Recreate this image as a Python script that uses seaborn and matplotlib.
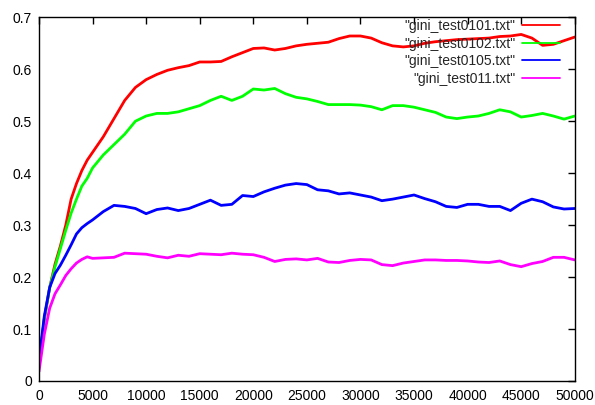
"""Gini coefficient over iterations for four test runs"""
import matplotlib
matplotlib.use("Agg")
import matplotlib.pyplot as plt
from matplotlib.ticker import FuncFormatter, MultipleLocator
import pandas as pd
import seaborn as sns

# Values
steps = [0, 500, 1000, 1500, 2000, 2500, 3000, 3500, 4000, 4500] + list(range(5000, 50001, 1000))

gini_0101 = [0.03, 0.12, 0.18, 0.225, 0.26, 0.30, 0.35, 0.38, 0.405, 0.425,
             0.44, 0.47, 0.505, 0.54, 0.565, 0.58, 0.59, 0.598, 0.603, 0.607,
             0.614, 0.614, 0.615, 0.624, 0.632, 0.640, 0.641, 0.637, 0.640, 0.645,
             0.648, 0.650, 0.652, 0.659, 0.664, 0.664, 0.660, 0.651, 0.645, 0.643,
             0.645, 0.650, 0.653, 0.655, 0.657, 0.658, 0.659, 0.660, 0.663, 0.664,
             0.667, 0.660, 0.646, 0.648, 0.655, 0.662]
gini_0102 = [0.03, 0.12, 0.18, 0.22, 0.255, 0.29, 0.323, 0.35, 0.375, 0.39,
             0.41, 0.435, 0.455, 0.475, 0.50, 0.51, 0.515, 0.515, 0.518, 0.524,
             0.530, 0.540, 0.548, 0.540, 0.548, 0.562, 0.560, 0.563, 0.553, 0.546,
             0.543, 0.538, 0.532, 0.532, 0.532, 0.531, 0.528, 0.522, 0.530, 0.530,
             0.527, 0.522, 0.517, 0.508, 0.505, 0.508, 0.510, 0.515, 0.522, 0.518,
             0.508, 0.511, 0.515, 0.510, 0.504, 0.510]
gini_0105 = [0.04, 0.125, 0.18, 0.207, 0.223, 0.242, 0.262, 0.283, 0.295, 0.303,
             0.310, 0.326, 0.338, 0.336, 0.332, 0.322, 0.330, 0.333, 0.328, 0.332,
             0.340, 0.348, 0.338, 0.340, 0.357, 0.355, 0.364, 0.371, 0.377, 0.380,
             0.378, 0.368, 0.366, 0.360, 0.362, 0.358, 0.354, 0.347, 0.350, 0.354,
             0.358, 0.351, 0.345, 0.336, 0.334, 0.340, 0.340, 0.336, 0.336, 0.328,
             0.342, 0.350, 0.345, 0.335, 0.331, 0.332]
gini_011 = [0.018, 0.09, 0.14, 0.168, 0.185, 0.203, 0.216, 0.227, 0.234, 0.239,
            0.236, 0.237, 0.238, 0.246, 0.245, 0.244, 0.240, 0.237, 0.242, 0.240,
            0.245, 0.244, 0.243, 0.246, 0.244, 0.243, 0.238, 0.230, 0.234, 0.235,
            0.233, 0.236, 0.229, 0.228, 0.232, 0.234, 0.233, 0.224, 0.222, 0.227,
            0.230, 0.233, 0.233, 0.232, 0.232, 0.231, 0.229, 0.228, 0.231, 0.224,
            0.220, 0.226, 0.230, 0.238, 0.238, 0.233]

labels = ['"gini_test0101.txt"', '"gini_test0102.txt"',
          '"gini_test0105.txt"', '"gini_test011.txt"']
colors = ["#ff0000", "#00ff00", "#0000ff", "#ff00ff"]
series = [gini_0101, gini_0102, gini_0105, gini_011]

sns.set_style("white")
plt.rcParams["font.family"] = ["Liberation Sans", "DejaVu Sans"]
plt.rcParams["font.size"] = 10

fig = plt.figure(figsize=(5.95, 4.05), dpi=100)
ax = fig.add_axes([0.0655, 0.0593, 0.9005, 0.898])

for vals, lab, col in zip(series, labels, colors):
    df = pd.DataFrame({"step": steps, "gini": vals})
    sns.lineplot(data=df, x="step", y="gini", color=col, linewidth=2.0, label=lab, ax=ax)

ax.set_xlim(0, 50000)
ax.set_ylim(0, 0.7)
ax.xaxis.set_major_locator(MultipleLocator(5000))
ax.yaxis.set_major_locator(MultipleLocator(0.1))
ax.yaxis.set_major_formatter(FuncFormatter(lambda v, p: "%g" % round(v, 2)))
ax.set_xlabel("")
ax.set_ylabel("")
ax.tick_params(direction="in", top=True, right=True, length=5, width=1,
               labelsize=10, colors="black")
ax.tick_params(axis="x", pad=6)
ax.tick_params(axis="y", pad=5)
for sp in ax.spines.values():
    sp.set_color("black")
    sp.set_linewidth(1)

# gnuplot-style key: text first, line sample after it (rows right aligned)
leg = ax.legend(loc="upper right", bbox_to_anchor=(0.972, 0.995), frameon=False,
                markerfirst=False, handlelength=2.7, handletextpad=0.5,
                labelspacing=0.25, borderpad=0, borderaxespad=0, fontsize=10)
for line in leg.get_lines():
    line.set_linewidth(1.3)

fig.savefig("out.png", dpi=100)
